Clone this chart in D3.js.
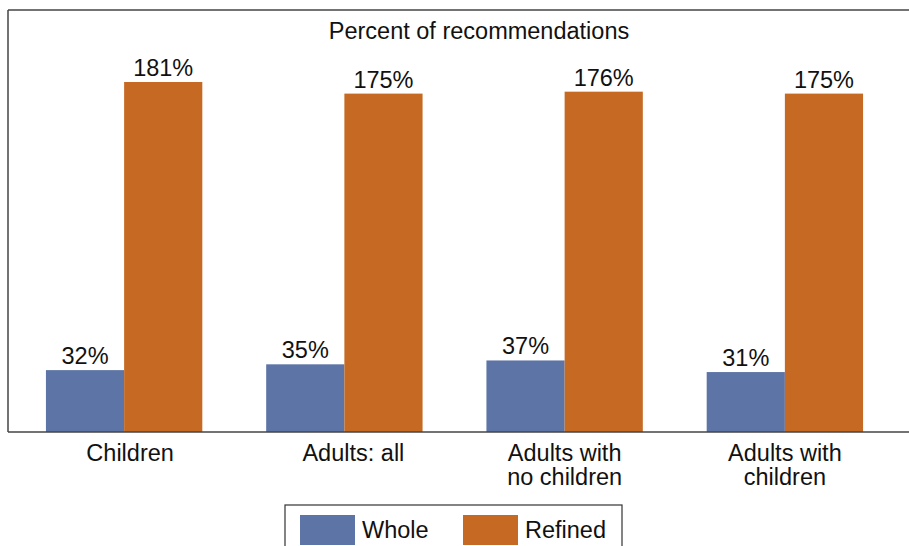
<!DOCTYPE html>
<html><head><meta charset="utf-8">
<script src="https://cdn.jsdelivr.net/npm/d3@7"></script>
<style>body{margin:0;background:#fff}svg{display:block;font-family:"Liberation Sans",Arial,Helvetica,sans-serif}</style>
</head><body><svg id="c" width="909" height="546"></svg>
<script>
const categories = [["Children"], ["Adults: all"], ["Adults with", "no children"], ["Adults with", "children"]];
const seriesNames = ["Whole", "Refined"];
const wholeValues = [32, 35, 37, 31];
const refinedValues = [181, 175, 176, 175];
const colors = ["#5d74a6", "#c56923"];
const title = "Percent of recommendations";

const FS = 23.5;
const labelShift = [6, 9, 0, 0];
const svg = d3.select("#c");
const baseY = 432, topY = 10, leftX = 8;
const x0 = d3.scaleBand().domain(d3.range(categories.length)).range([14, 895]).paddingInner(0.29).paddingOuter(0.145);
const x1 = d3.scaleBand().domain(seriesNames).range([0, x0.bandwidth()]);
const y = d3.scaleLinear().domain([0, 181]).range([baseY, 82]);
const color = d3.scaleOrdinal().domain(seriesNames).range(colors);

// frame
svg.append("line").attr("x1", leftX).attr("x2", 909).attr("y1", topY).attr("y2", topY).attr("stroke", "#444").attr("stroke-width", 1.5);
svg.append("line").attr("x1", leftX).attr("x2", leftX).attr("y1", topY).attr("y2", baseY).attr("stroke", "#444").attr("stroke-width", 1.5);

svg.append("text").attr("x", 479).attr("y", 39).attr("text-anchor", "middle").attr("font-size", FS).attr("fill", "#111").text(title);

const data = categories.map((c, i) => ({i, vals: [wholeValues[i], refinedValues[i]]}));
const g = svg.selectAll("g.grp").data(data).join("g").attr("transform", d => `translate(${x0(d.i)},0)`);
g.selectAll("rect").data(d => d.vals.map((v, k) => ({k: seriesNames[k], v}))).join("rect")
  .attr("x", d => x1(d.k)).attr("width", x1.bandwidth())
  .attr("y", d => y(d.v)).attr("height", d => baseY - y(d.v)).attr("fill", d => color(d.k));
g.selectAll("text.v").data(d => d.vals.map((v, k) => ({k: seriesNames[k], v}))).join("text").attr("class", "v")
  .attr("x", d => x1(d.k) + x1.bandwidth() / 2).attr("y", d => y(d.v) - 6)
  .attr("text-anchor", "middle").attr("font-size", FS).attr("fill", "#111").text(d => d.v + "%");

// axis
const ax = svg.append("g").attr("transform", `translate(0,${baseY})`)
  .call(d3.axisBottom(x0).tickSize(0).tickFormat(""));
ax.select(".domain").remove();
svg.append("line").attr("x1", leftX).attr("x2", 909).attr("y1", baseY).attr("y2", baseY).attr("stroke", "#444").attr("stroke-width", 1.5);
ax.selectAll(".tick").each(function(d) {
  const t = d3.select(this).append("text").attr("text-anchor", "middle").attr("font-size", FS).attr("fill", "#111")
    .attr("font-family", '"Liberation Sans",Arial,sans-serif');
  categories[d].forEach((line, j) => t.append("tspan").attr("x", labelShift[d]).attr("y", 29 + j * 24).text(line));
});

// legend
const lg = svg.append("g");
lg.append("rect").attr("x", 285).attr("y", 505).attr("width", 337).attr("height", 50).attr("fill", "none").attr("stroke", "#333").attr("stroke-width", 1.2);
const lx = [300, 463];
seriesNames.forEach((s, i) => {
  lg.append("rect").attr("x", lx[i]).attr("y", 515).attr("width", 55).attr("height", 30).attr("fill", color(s));
  lg.append("text").attr("x", lx[i] + 62).attr("y", 538).attr("font-size", FS).attr("fill", "#111").text(s);
});
</script></body></html>
